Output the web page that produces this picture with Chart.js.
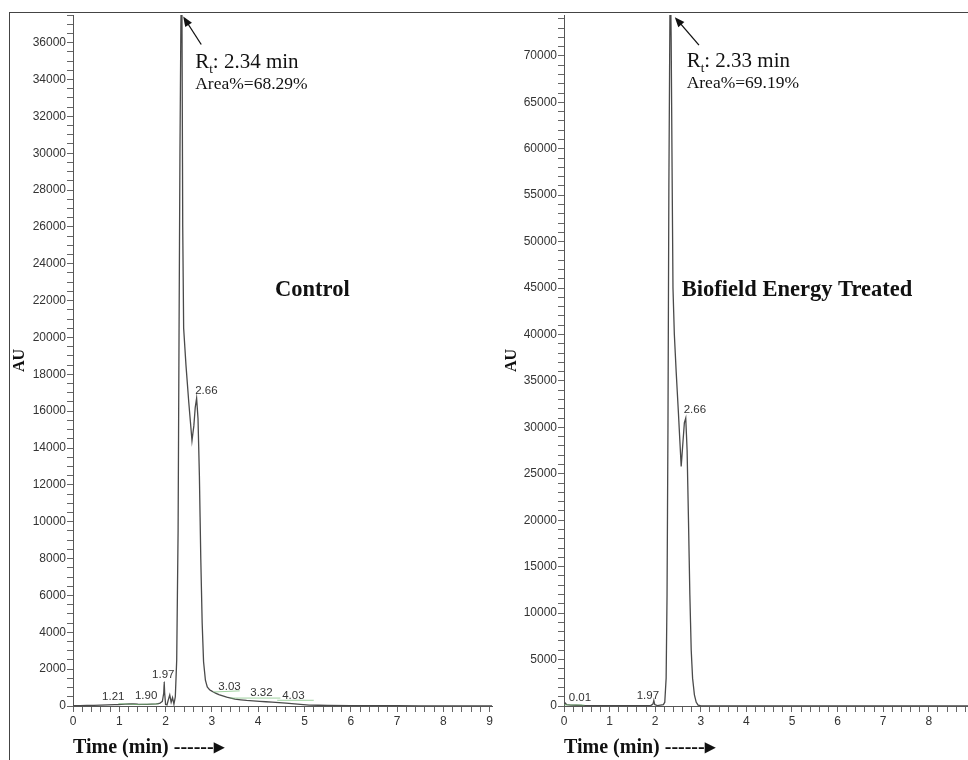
<!DOCTYPE html>
<html>
<head>
<meta charset="utf-8">
<script src="https://cdn.jsdelivr.net/npm/chart.js@4/dist/chart.umd.min.js"></script>
<style>
  html, body { margin: 0; padding: 0; background: #fff; }
  #page { position: relative; width: 968px; height: 760px; overflow: hidden; }
  #frame { position: absolute; left: 9px; top: 12px; right: -5px; bottom: -5px;
           border-top: 1.5px solid #444; border-left: 1.5px solid #444; }
  .box { position: absolute; top: 0; height: 760px; }
  #left { left: 0; width: 500px; }
  #right { left: 492px; width: 476px; }
</style>
</head>
<body>
<div id="page">
  <div id="frame"></div>
  <div class="box" id="left"><canvas id="c1"></canvas></div>
  <div class="box" id="right"><canvas id="c2"></canvas></div>
</div>
<script>
// --- Control trace (time in min, response in AU) ---
const ctrlTime = [0, 0.3, 0.6, 0.9, 1.05, 1.21, 1.4, 1.6, 1.8, 1.88,
  1.93, 1.96, 1.97, 1.98, 2.00, 2.03, 2.06, 2.09, 2.12, 2.15,
  2.18, 2.21, 2.24, 2.27, 2.29, 2.31, 2.33, 2.35, 2.36, 2.37,
  2.39, 2.44, 2.50, 2.57, 2.61, 2.64, 2.67, 2.70, 2.73, 2.76,
  2.79, 2.82, 2.86, 2.90, 2.95, 3.03, 3.15, 3.32, 3.5, 3.75,
  4.03, 4.3, 4.6, 4.85, 5.1, 5.5, 6.5, 7.5, 9.05];
const ctrlAU = [20, 30, 45, 70, 90, 120, 95, 85, 110, 160,
  250, 700, 1300, 700, 80, 60, 350, 600, 200, 450,
  100, 500, 2500, 9500, 20000, 30000, 37000, 40000, 33000, 26000,
  20500, 18500, 16500, 14400, 15200, 16200, 16700, 15600, 12500, 8000,
  4500, 2400, 1400, 1030, 880, 760, 620, 480, 370, 300,
  250, 210, 160, 100, 50, 30, 15, 10, 5];
const ctrlPeaks = ['1.21', '1.90', '1.97', '2.66', '3.03', '3.32', '4.03'];
// integration baselines: [t0, au0, t1, au1]
const ctrlBaselines = [[0.98, 130, 1.45, 70], [1.45, 90, 1.85, 110],
  [3.03, 760, 3.6, 820], [3.4, 430, 4.48, 430], [4.41, 310, 5.2, 310]];

// --- Biofield Energy Treated trace ---
const trtTime = [0, 0.03, 0.06, 0.15, 0.4, 1.0, 1.9, 1.95, 1.97, 1.99,
  2.05, 2.18, 2.21, 2.24, 2.26, 2.28, 2.30, 2.33, 2.35, 2.37,
  2.39, 2.42, 2.46, 2.51, 2.57, 2.61, 2.64, 2.67, 2.70, 2.73,
  2.76, 2.79, 2.82, 2.86, 2.90, 2.94, 3.0, 4, 8.86];
const trtAU = [0, 300, 150, 100, 60, 30, 40, 200, 600, 150,
  50, 150, 400, 3000, 12000, 30000, 56000, 80000, 72000, 58000,
  45000, 40000, 36000, 31500, 25800, 28500, 30500, 31000, 27500, 20000,
  12000, 6000, 3000, 1200, 400, 100, 20, 0, 0];
const trtPeaks = ['0.01', '1.97', '2.66'];
const trtBaselines = [[0, 120, 0.45, 100]];

const SANS = '"Liberation Sans", Arial, sans-serif';
const SERIF = '"Liberation Serif", "Times New Roman", serif';

// draws peak labels, retention-time notes, arrow and sample name
const notesPlugin = {
  id: 'notes',
  afterDatasetsDraw(chart, args, o) {
    const { ctx, scales: { x, y } } = chart;
    ctx.save();
    ctx.fillStyle = '#333';
    ctx.font = '11.5px ' + SANS;
    ctx.textAlign = 'center';
    ctx.textBaseline = 'middle';
    o.peaks.forEach((t, i) => {
      const p = o.peakPos[i];
      ctx.fillText(t, x.getPixelForValue(p[0]), y.getPixelForValue(p[1]));
    });

    // Rt line with subscript
    ctx.fillStyle = '#111';
    ctx.textAlign = 'left';
    ctx.textBaseline = 'alphabetic';
    let px = x.getPixelForValue(o.rtPos[0]);
    const py = y.getPixelForValue(o.rtPos[1]);
    ctx.font = '21px ' + SERIF;
    ctx.fillText('R', px, py);
    px += ctx.measureText('R').width;
    ctx.font = '13px ' + SERIF;
    ctx.fillText('t', px, py + 5);
    px += ctx.measureText('t').width;
    ctx.font = '21px ' + SERIF;
    ctx.fillText(': ' + o.rt + ' min', px, py);

    ctx.font = '17.5px ' + SERIF;
    ctx.fillText('Area%=' + o.area + '%', x.getPixelForValue(o.rtPos[0]), y.getPixelForValue(o.areaY));

    ctx.font = 'bold 22.5px ' + SERIF;
    ctx.textAlign = 'center';
    ctx.textBaseline = 'middle';
    ctx.fillText(o.name, x.getPixelForValue(o.namePos[0]), y.getPixelForValue(o.namePos[1]));

    // arrow pointing at the main peak
    const ax = x.getPixelForValue(o.arrow[0]), ay = y.getPixelForValue(o.arrow[1]);
    const bx = x.getPixelForValue(o.arrow[2]), by = y.getPixelForValue(o.arrow[3]);
    const ang = Math.atan2(ay - by, ax - bx);
    ctx.strokeStyle = '#111';
    ctx.lineWidth = 1.3;
    ctx.beginPath();
    ctx.moveTo(bx, by);
    ctx.lineTo(ax - 6 * Math.cos(ang), ay - 6 * Math.sin(ang));
    ctx.stroke();
    ctx.beginPath();
    ctx.moveTo(ax, ay);
    ctx.lineTo(ax - 10 * Math.cos(ang) + 4 * Math.sin(ang), ay - 10 * Math.sin(ang) - 4 * Math.cos(ang));
    ctx.lineTo(ax - 10 * Math.cos(ang) - 4 * Math.sin(ang), ay - 10 * Math.sin(ang) + 4 * Math.cos(ang));
    ctx.closePath();
    ctx.fill();
    ctx.restore();
  }
};

function isMultiple(v, step) {
  const r = Math.round(v * 1000) / 1000;
  return Math.abs(r / step - Math.round(r / step)) < 1e-6;
}

// evenly stepped ticks from 0 up to the axis max (Chart.js stretches them otherwise)
function stepTicks(step) {
  return s => {
    const out = [];
    for (let i = 0; i * step <= s.max + 1e-9; i++) {
      out.push({ value: Math.round(i * step * 1000) / 1000 });
    }
    s.ticks = out;
  };
}

function makeChart(id, cfg) {
  const trace = cfg.time.map((t, i) => ({ x: t, y: cfg.au[i] }));
  const baseSets = cfg.baselines.map(b => ({
    data: [{ x: b[0], y: b[1] }, { x: b[2], y: b[3] }],
    borderColor: 'rgba(120,190,120,0.7)', borderWidth: 1, pointRadius: 0
  }));
  return new Chart(document.getElementById(id), {
    type: 'line',
    data: {
      datasets: [...baseSets, {
        // tiny tension keeps Chart.js off its pixel-merging fast path (no jogs on steep edges)
        data: trace, borderColor: '#4a4a4a', borderWidth: 1.3,
        pointRadius: 0, tension: 0.001
      }]
    },
    options: {
      responsive: true,
      maintainAspectRatio: false,
      animation: false,
      layout: { padding: { top: 15, left: 10, right: cfg.padRight, bottom: 0 } },
      plugins: {
        legend: { display: false },
        tooltip: { enabled: false },
        notes: cfg.notes
      },
      scales: {
        x: {
          type: 'linear', min: 0, max: cfg.xMax,
          afterBuildTicks: stepTicks(0.2),
          afterFit: s => { s.height = 54; },
          ticks: {
            autoSkip: false, maxRotation: 0, padding: 2,
            color: '#333', font: { family: SANS, size: 12 },
            callback: v => isMultiple(v, 1) ? String(Math.round(v)) : ''
          },
          grid: { drawOnChartArea: false, drawTicks: true, tickLength: 6, color: '#666' },
          border: { color: '#555', width: 1 },
          title: {
            display: true, text: 'Time (min) ------\u25B8', align: 'start',
            color: '#111', font: { family: SERIF, size: 20, weight: 'bold' },
            padding: { top: 0, bottom: 0 }
          }
        },
        y: {
          min: 0, max: cfg.yMax,
          afterBuildTicks: stepTicks(cfg.yMinor),
          afterFit: s => { s.width = cfg.yWidth; },
          ticks: {
            autoSkip: false, padding: 1,
            color: '#333', font: { family: SANS, size: 12 },
            callback: v => (isMultiple(v, cfg.yMajor) && v <= cfg.yLabelMax) ? String(Math.round(v)) : ''
          },
          grid: { drawOnChartArea: false, drawTicks: true, tickLength: 6, color: '#666' },
          border: { color: '#555', width: 1 },
          title: {
            display: true, text: 'AU', color: '#111',
            font: { family: SERIF, size: 16, weight: 'bold' },
            padding: { top: 0, bottom: 0 }
          }
        }
      }
    },
    plugins: [notesPlugin]
  });
}

makeChart('c1', {
  time: ctrlTime, au: ctrlAU, baselines: ctrlBaselines,
  xMax: 9.05, yMax: 37500, yMinor: 500, yMajor: 2000, yLabelMax: 36000,
  yWidth: 63, padRight: 8,
  notes: {
    peaks: ctrlPeaks,
    peakPos: [[0.87, 490], [1.58, 530], [1.95, 1670], [2.88, 17080], [3.38, 1030], [4.07, 690], [4.76, 530]],
    rt: '2.34', area: '68.29', rtPos: [2.64, 34650], areaY: 33510,
    name: 'Control', namePos: [5.17, 22550],
    arrow: [2.38, 37420, 2.77, 35900]
  }
});

makeChart('c2', {
  time: trtTime, au: trtAU, baselines: trtBaselines,
  xMax: 8.86, yMax: 74400, yMinor: 1000, yMajor: 5000, yLabelMax: 70000,
  yWidth: 62, padRight: 0,
  notes: {
    peaks: trtPeaks,
    peakPos: [[0.35, 860], [1.84, 1080], [2.87, 31860]],
    rt: '2.33', area: '69.19', rtPos: [2.69, 68780], areaY: 66520,
    name: 'Biofield Energy Treated', namePos: [5.11, 44780],
    arrow: [2.43, 74170, 2.96, 71150]
  }
});
</script>
</body>
</html>
